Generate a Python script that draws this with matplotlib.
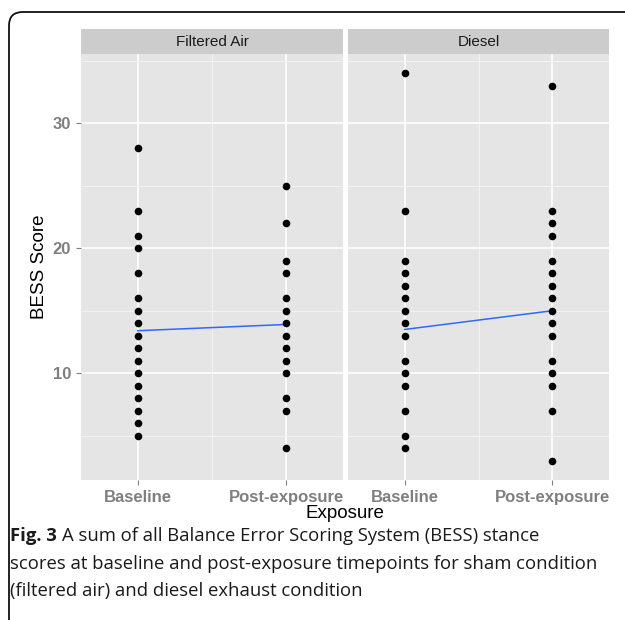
#!/usr/bin/env python3
"""
BESS score by exposure timepoint, faceted by condition (ggplot-style).
Output: out.png
"""
import matplotlib
matplotlib.use("Agg")
import matplotlib.pyplot as plt
from matplotlib.patches import FancyBboxPatch

# data
conditions = ["Filtered Air", "Diesel"]
timepoints = ["Baseline", "Post-exposure"]

fa_baseline = [28, 23, 21, 20, 18, 16, 15, 14, 13, 12, 11, 10, 9, 8, 7, 6, 5]
fa_post = [25, 22, 19, 18, 16, 15, 14, 13, 12, 11, 10, 8, 7, 4]
diesel_baseline = [34, 23, 19, 18, 17, 16, 15, 14, 13, 11, 10, 9, 7, 5, 4]
diesel_post = [33, 23, 22, 21, 19, 18, 17, 16, 15, 14, 13, 11, 10, 9, 7, 3]

# fitted line endpoints (group means incl. overlapping points)
fa_trend = [13.4, 13.9]
diesel_trend = [13.5, 15.0]

y_ticks = [10, 20, 30]
y_minor = [5, 15, 25, 35]

W, H = 625, 620
PANEL_BG = "#E5E5E5"
STRIP_BG = "#CCCCCC"
TICK_GREY = "#7F7F7F"
LINE_BLUE = "#3366FF"


def fx(px):
    return px / W


def fy(py):
    return 1 - py / H


def main():
    fig = plt.figure(figsize=(W / 100, H / 100), dpi=100, facecolor="white")

    # journal frame (runs off the right and bottom edges)
    frame = FancyBboxPatch((fx(9), fy(680)), fx(660), (680 - 12) / H,
                           boxstyle="round,pad=0,rounding_size=0.022",
                           transform=fig.transFigure, fill=False,
                           edgecolor="#111111", linewidth=1.3, clip_on=False)
    fig.patches.append(frame)

    all_vals = fa_baseline + fa_post + diesel_baseline + diesel_post
    lo, hi = min(all_vals), max(all_vals)
    pad = (hi - lo) * 0.05
    ylim = (lo - pad, hi + pad)

    panels = [
        (81, 343, fa_baseline, fa_post, fa_trend),
        (348, 609, diesel_baseline, diesel_post, diesel_trend),
    ]
    top, bottom = 54, 480
    for i, (x0, x1, base, post, trend) in enumerate(panels):
        ax = fig.add_axes([fx(x0), fy(bottom), fx(x1 - x0), (bottom - top) / H])
        ax.set_facecolor(PANEL_BG)
        ax.set_xlim(-0.383, 1.383)
        ax.set_ylim(*ylim)

        ax.set_yticks(y_minor, minor=True)
        ax.set_xticks([0.5], minor=True)
        ax.grid(True, which="minor", color="#F2F2F2", linewidth=0.8)
        ax.grid(True, which="major", color="white", linewidth=1.2)
        ax.set_axisbelow(True)

        ax.scatter([0] * len(base), base, s=30, color="black", zorder=3,
                   linewidths=0)
        ax.scatter([1] * len(post), post, s=30, color="black", zorder=3,
                   linewidths=0)
        ax.plot([0, 1], trend, color=LINE_BLUE, linewidth=1.1, zorder=2)

        ax.set_xticks([0, 1])
        ax.set_xticklabels(timepoints, fontsize=12, fontweight="bold",
                           color=TICK_GREY, family="Liberation Sans")
        ax.set_yticks(y_ticks)
        ax.tick_params(which="major", direction="out", length=3.6, width=0.8,
                       color=TICK_GREY, pad=3.6)
        ax.tick_params(which="minor", length=0)
        if i == 0:
            ax.set_yticklabels([str(t) for t in y_ticks], fontsize=12,
                               fontweight="bold", color=TICK_GREY,
                               family="Liberation Sans")
        else:
            ax.set_yticklabels([])
            ax.tick_params(axis="y", which="major", length=0)
        for sp in ax.spines.values():
            sp.set_visible(False)

        # facet strip
        sax = fig.add_axes([fx(x0), fy(top), fx(x1 - x0), (top - 29) / H])
        sax.set_facecolor(STRIP_BG)
        sax.set_xticks([])
        sax.set_yticks([])
        for sp in sax.spines.values():
            sp.set_visible(False)
        sax.text(0.5, 0.5, conditions[i], ha="center", va="center",
                 fontsize=11, color="#1A1A1A", family="Liberation Sans",
                 transform=sax.transAxes)

    fig.text(fx(345), fy(514), "Exposure", ha="center", va="center",
             fontsize=13.5, color="black", family="Liberation Sans")
    fig.text(fx(40), fy(267), "BESS Score", ha="center", va="center",
             rotation=90, fontsize=13.5, color="black",
             family="Liberation Sans")

    # caption
    cap_kw = dict(fontsize=13.3, color="#1A1A1A", family="Open Sans",
                  va="baseline", ha="left")
    fig_lbl = fig.text(fx(10), fy(541), "Fig. 3", fontweight="bold", **cap_kw)
    renderer = fig.canvas.get_renderer()
    bb = fig_lbl.get_window_extent(renderer)
    fig.text(fx(bb.x1 + 5), fy(541),
             "A sum of all Balance Error Scoring System (BESS) stance",
             **cap_kw)
    fig.text(fx(10), fy(569),
             "scores at baseline and post-exposure timepoints for sham condition",
             **cap_kw)
    fig.text(fx(10), fy(596),
             "(filtered air) and diesel exhaust condition", **cap_kw)

    fig.savefig("out.png", dpi=100, facecolor="white")
    plt.close(fig)


if __name__ == "__main__":
    main()
